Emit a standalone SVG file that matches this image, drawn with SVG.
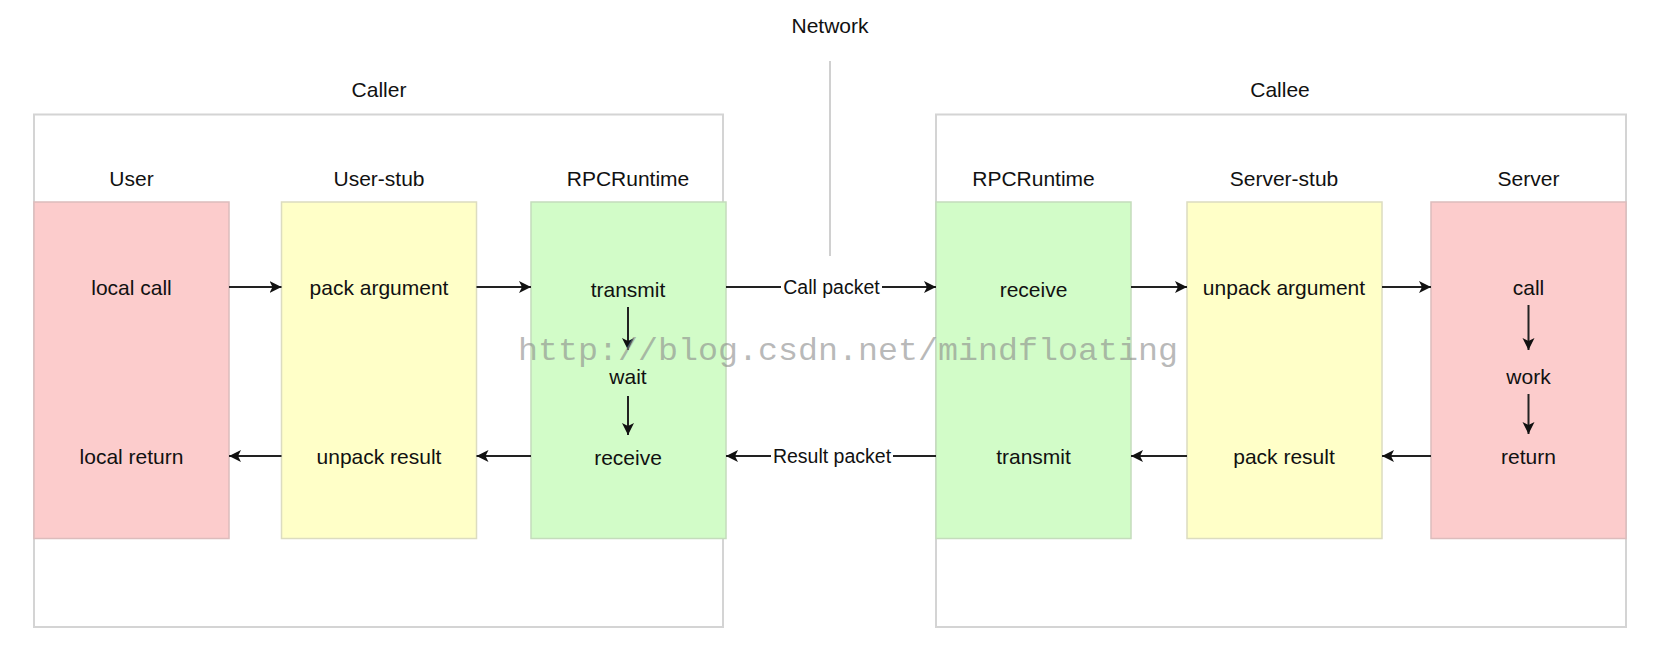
<svg xmlns="http://www.w3.org/2000/svg" width="1678" height="662" viewBox="0 0 1678 662">
<style>
text{font-family:"Liberation Sans",Arial,Helvetica,sans-serif;font-size:21px;fill:#111;text-anchor:middle}
.lbl{font-size:19.5px}
.cont{fill:#fff;stroke:#d4d4d4;stroke-width:2}
.red{fill:#fccccc;stroke:#dcbcbc;stroke-width:1.5}
.yel{fill:#ffffc8;stroke:#dcdcc0;stroke-width:1.5}
.grn{fill:#d2fcc8;stroke:#c4dcbc;stroke-width:1.5}
.edge{stroke:#222;stroke-width:2;fill:none;marker-end:url(#arr)}
.wm{font-family:"Liberation Mono","DejaVu Sans Mono",monospace;font-size:32px;fill:#8a8a8a;fill-opacity:0.6;text-anchor:start}
</style>
<defs>
<marker id="arr" markerUnits="userSpaceOnUse" markerWidth="14" markerHeight="14" refX="12" refY="6" orient="auto">
<path d="M0,0 L12,6 L0,12 L3,6 z" fill="#111"/>
</marker>
</defs>
<rect width="1678" height="662" fill="#fff"/>

<g id="network">
<text x="830" y="33">Network</text>
<line x1="830" y1="61" x2="830" y2="256" stroke="#d0d0d0" stroke-width="2"/>
</g>

<g id="caller">
<text x="379" y="97">Caller</text>
<rect class="cont" x="34" y="114.5" width="689" height="512.5"/>
</g>
<g id="callee">
<text x="1280" y="97">Callee</text>
<rect class="cont" x="936" y="114.5" width="690" height="512.5"/>
</g>

<g id="user">
<text x="131.5" y="186">User</text>
<rect class="red" x="34" y="202" width="195" height="336.5"/>
<text x="131.5" y="294.5">local call</text>
<text x="131.5" y="463.5">local return</text>
</g>
<g id="user-stub">
<text x="379" y="186">User-stub</text>
<rect class="yel" x="281.5" y="202" width="195" height="336.5"/>
<text x="379" y="294.5">pack argument</text>
<text x="379" y="463.5">unpack result</text>
</g>
<g id="rpc-left">
<text x="628" y="186">RPCRuntime</text>
<rect class="grn" x="531" y="202" width="195" height="336.5"/>
<text x="628" y="296.5">transmit</text>
<text x="628" y="383.5">wait</text>
<text x="628" y="464.5">receive</text>
</g>
<g id="rpc-right">
<text x="1033.5" y="186">RPCRuntime</text>
<rect class="grn" x="936" y="202" width="195" height="336.5"/>
<text x="1033.5" y="296.5">receive</text>
<text x="1033.5" y="463.5">transmit</text>
</g>
<g id="server-stub">
<text x="1284" y="186">Server-stub</text>
<rect class="yel" x="1187" y="202" width="195" height="336.5"/>
<text x="1284" y="294.5">unpack argument</text>
<text x="1284" y="463.5">pack result</text>
</g>
<g id="server">
<text x="1528.5" y="186">Server</text>
<rect class="red" x="1431" y="202" width="195" height="336.5"/>
<text x="1528.5" y="294.5">call</text>
<text x="1528.5" y="383.5">work</text>
<text x="1528.5" y="463.5">return</text>
</g>

<g id="connectors">
<line class="edge" x1="229" y1="287" x2="281.5" y2="287"/>
<line class="edge" x1="476.5" y1="287" x2="531" y2="287"/>
<line class="edge" x1="726" y1="287" x2="936" y2="287"/>
<line class="edge" x1="1131" y1="287" x2="1187" y2="287"/>
<line class="edge" x1="1382" y1="287" x2="1431" y2="287"/>
<line class="edge" x1="281.5" y1="456" x2="229" y2="456"/>
<line class="edge" x1="531" y1="456" x2="476.5" y2="456"/>
<line class="edge" x1="936" y1="456" x2="726" y2="456"/>
<line class="edge" x1="1187" y1="456" x2="1131" y2="456"/>
<line class="edge" x1="1431" y1="456" x2="1382" y2="456"/>
<line class="edge" x1="628" y1="307" x2="628" y2="350"/>
<line class="edge" x1="628" y1="396" x2="628" y2="435"/>
<line class="edge" x1="1528.5" y1="305" x2="1528.5" y2="350"/>
<line class="edge" x1="1528.5" y1="394" x2="1528.5" y2="434"/>
<rect x="781" y="276" width="101" height="22" fill="#fff"/>
<text class="lbl" x="831.5" y="294">Call packet</text>
<rect x="771" y="445" width="122" height="22" fill="#fff"/>
<text class="lbl" x="832" y="463">Result packet</text>
</g>

<text class="wm" x="518" y="360" textLength="660" lengthAdjust="spacingAndGlyphs">http://blog.csdn.net/mindfloating</text>
</svg>
